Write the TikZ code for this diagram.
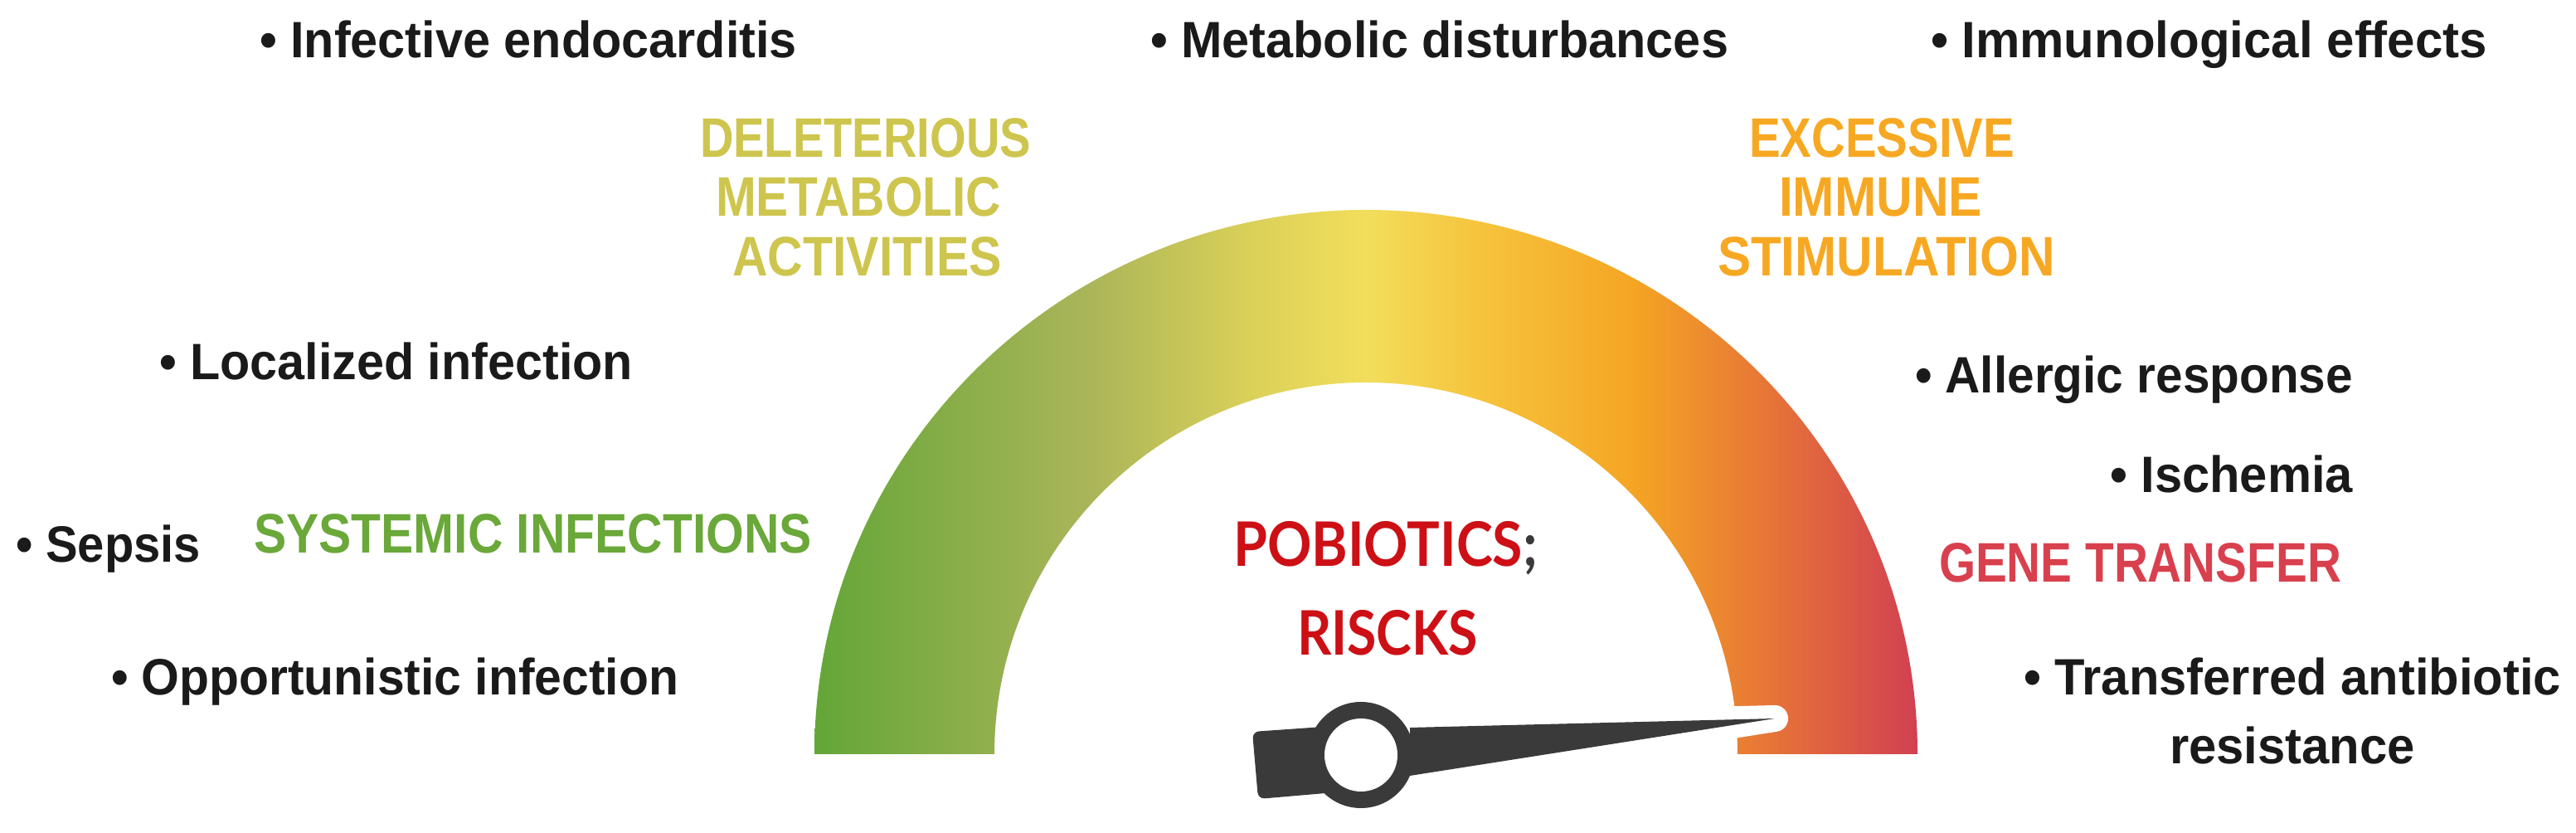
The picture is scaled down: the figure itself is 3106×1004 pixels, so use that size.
\documentclass[tikz,border=0pt]{standalone}
\usepackage{fontspec}
\usepackage{graphicx}
\setmainfont{Liberation Sans}
\newfontfamily\ctrfont{Lato}
\definecolor{txt}{RGB}{26,26,26}
\definecolor{delcol}{RGB}{206,197,78}
\definecolor{exccol}{RGB}{247,168,35}
\definecolor{syscol}{RGB}{106,168,58}
\definecolor{genecol}{RGB}{217,64,78}
\definecolor{ctrred}{RGB}{204,16,22}
\definecolor{needlecol}{RGB}{58,58,58}
\pgfdeclarehorizontalshading{gaugeshade}{100bp}{
 rgb(0bp)=(0.39,0.65,0.22);
 rgb(25bp)=(0.39,0.65,0.22);
 rgb(37.5bp)=(0.67,0.71,0.35);
 rgb(45bp)=(0.86,0.82,0.35);
 rgb(50bp)=(0.95,0.87,0.36);
 rgb(55bp)=(0.965,0.77,0.24);
 rgb(62bp)=(0.96,0.65,0.14);
 rgb(68.5bp)=(0.90,0.45,0.22);
 rgb(75bp)=(0.82,0.25,0.32);
 rgb(100bp)=(0.82,0.25,0.32)}
\newcommand{\fitw}[2]{\resizebox{#1}{\height}{#2}}
\tikzset{
 item/.style={inner sep=0pt, outer sep=0pt, anchor=base west, text=txt, font=\fontsize{15.4pt}{18pt}\selectfont\bfseries},
 head/.style={inner sep=0pt, outer sep=0pt, anchor=base west, font=\fontsize{16.8pt}{20pt}\selectfont\bfseries},
 ctr/.style={inner sep=0pt, outer sep=0pt, anchor=base west, text=ctrred, font=\fontsize{18.5pt}{22pt}\selectfont\ctrfont\bfseries},
}
\begin{document}
\begin{tikzpicture}[x=0.25pt,y=0.25pt]
\useasboundingbox[fill=white] (0,0) rectangle (3106,1004);
% gauge band (y measured upward)
\shade[shading=gaugeshade] (982,95) arc[start angle=180, end angle=0, x radius=166.25pt, y radius=164pt] -- (2095,95) arc[start angle=0, end angle=180, radius=112pt] -- cycle;
% needle
\coordinate (hub) at (1641,94);
\coordinate (tip) at (2140,138);
\draw[white, line width=8pt, line join=round] (1700,127) -- (tip) -- (1700,69) -- cycle;
\fill[needlecol, rounded corners=2pt] (1510,122) -- (1610,129) -- (1610,49) -- (1517,41) -- cycle;
\fill[needlecol] (1700,127) -- (tip) -- (1700,69) -- cycle;
\fill[needlecol] (hub) circle[radius=16pt];
\fill[white] (hub) circle[radius=11pt];
% black items
\node[item] (ie) at (313,934) {\fitw{162pt}{• Infective endocarditis}};
\node[item] (md) at (1387,934) {\fitw{174.25pt}{• Metabolic disturbances}};
\node[item] (im) at (2328,934) {\fitw{167.75pt}{• Immunological effects}};
\node[item] (li) at (192,546) {\fitw{142.75pt}{• Localized infection}};
\node[item] (se) at (19,326) {\fitw{55.75pt}{• Sepsis}};
\node[item] (oi) at (134,166) {\fitw{171pt}{• Opportunistic infection}};
\node[item] (ar) at (2309,530) {\fitw{132pt}{• Allergic response}};
\node[item] (is) at (2544,410) {\fitw{73.25pt}{• Ischemia}};
\node[item] (ta) at (2440,166) {\fitw{162pt}{• Transferred antibiotic}};
\node[item] (re) at (2616,83) {\fitw{74pt}{resistance}};
% category headings
\node[head, text=delcol] (d1) at (844,814) {\fitw{99.75pt}{DELETERIOUS}};
\node[head, text=delcol] (d2) at (863,743) {\fitw{86pt}{METABOLIC}};
\node[head, text=delcol] (d3) at (883,671) {\fitw{81.25pt}{ACTIVITIES}};
\node[head, text=exccol] (e1) at (2109,814) {\fitw{80pt}{EXCESSIVE}};
\node[head, text=exccol] (e2) at (2145,743) {\fitw{61.25pt}{IMMUNE}};
\node[head, text=exccol] (e3) at (2071,671) {\fitw{101.75pt}{STIMULATION}};
\node[head, text=syscol] (sy) at (306,337) {\fitw{168.25pt}{SYSTEMIC INFECTIONS}};
\node[head, text=genecol] (gt) at (2338,302) {\fitw{121.25pt}{GENE TRANSFER}};
% centre title
\node[ctr] (c1) at (1487,321) {\fitw{91.75pt}{POBIOTICS\textcolor{needlecol}{;}}};
\node[ctr] (c2) at (1564,214) {\fitw{54.5pt}{RISCKS}};
\end{tikzpicture}
\end{document}
